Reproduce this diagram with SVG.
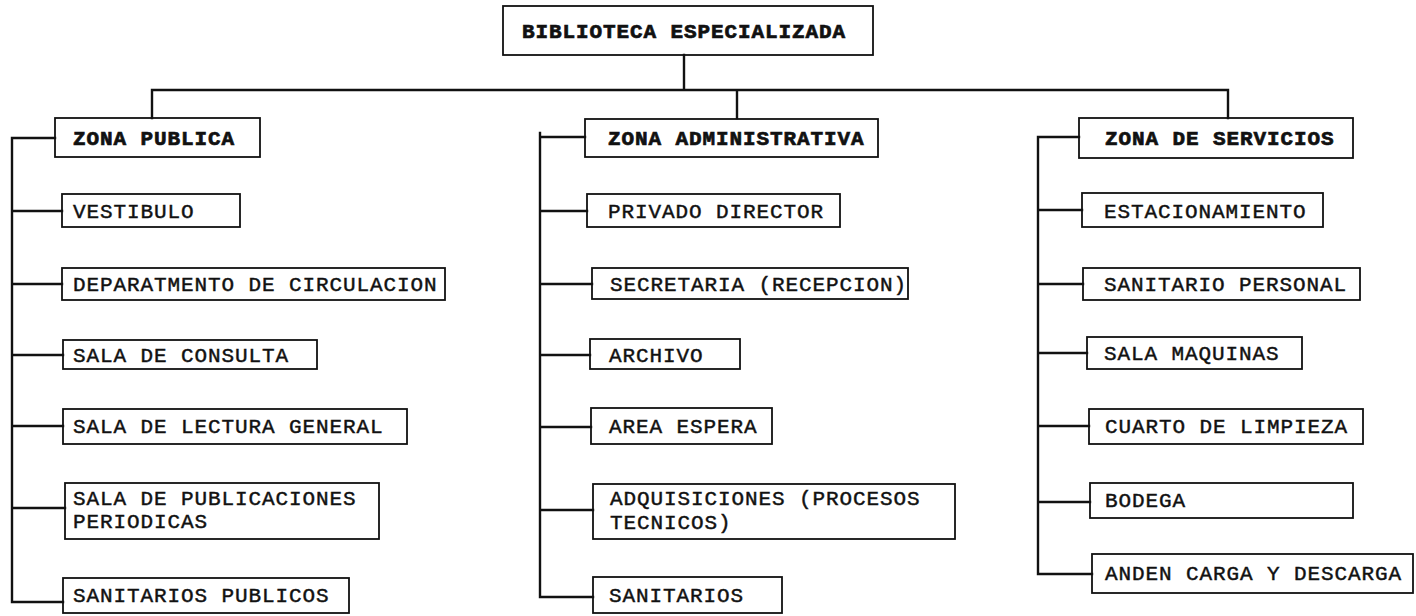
<svg xmlns="http://www.w3.org/2000/svg" width="1416" height="616" viewBox="0 0 1416 616">
<style>
.bg{fill:#ffffff}
.box{fill:none;stroke:#111;stroke-width:1.8}
.ln{fill:none;stroke:#111;stroke-width:2.4;stroke-linecap:square}
.t{font-family:"Liberation Mono","DejaVu Sans Mono",monospace;font-size:21px;letter-spacing:0.9px;fill:#111;stroke:#111;stroke-width:0.45}
.h{font-weight:bold;stroke-width:0.7}
</style>
<rect class="bg" x="0" y="0" width="1416" height="616"/>
<g id="connectors">
<path class="ln" d="M684 55V90M152 90H1228M152 90V118M737 90V118M1228 90V118"/>
<path class="ln" d="M12 138V602M12 138H55M12 211H62M12 284H62M12 355H63M12 426H63M12 508H65M12 602H63"/>
<path class="ln" d="M540 133V597M540 137H585M540 211H587M540 284H592M540 355H590M540 427H591M540 510H593M540 597H593"/>
<path class="ln" d="M1038 137V574M1038 137H1079M1038 210H1082M1038 284H1083M1038 353H1087M1038 426H1089M1038 502H1090M1038 574H1092"/>
</g>
<g id="n-biblioteca"><rect class="box" x="503" y="6" width="370" height="49"/><text class="t h" x="522" y="38">BIBLIOTECA ESPECIALIZADA</text></g>
<g id="n-zona-publica"><rect class="box" x="55" y="118" width="205" height="39"/><text class="t h" x="73" y="145">ZONA PUBLICA</text></g>
<g id="n-vestibulo"><rect class="box" x="62" y="194" width="178" height="33"/><text class="t" x="73" y="218">VESTIBULO</text></g>
<g id="n-circulacion"><rect class="box" x="62" y="268" width="383" height="32"/><text class="t" x="73" y="291">DEPARATMENTO DE CIRCULACION</text></g>
<g id="n-consulta"><rect class="box" x="63" y="340" width="254" height="29"/><text class="t" x="73" y="362">SALA DE CONSULTA</text></g>
<g id="n-lectura"><rect class="box" x="63" y="409" width="344" height="35"/><text class="t" x="73" y="433">SALA DE LECTURA GENERAL</text></g>
<g id="n-publicaciones"><rect class="box" x="65" y="483" width="314" height="56"/><text class="t" x="73" y="505">SALA DE PUBLICACIONES</text><text class="t" x="73" y="528">PERIODICAS</text></g>
<g id="n-sanitarios-publicos"><rect class="box" x="63" y="578" width="286" height="35"/><text class="t" x="73" y="602">SANITARIOS PUBLICOS</text></g>
<g id="n-zona-admin"><rect class="box" x="585" y="119" width="293" height="38"/><text class="t h" x="608" y="145">ZONA ADMINISTRATIVA</text></g>
<g id="n-privado"><rect class="box" x="587" y="194" width="253" height="33"/><text class="t" x="608" y="218">PRIVADO DIRECTOR</text></g>
<g id="n-secretaria"><rect class="box" x="592" y="268" width="316" height="31"/><text class="t" x="610" y="291">SECRETARIA (RECEPCION)</text></g>
<g id="n-archivo"><rect class="box" x="590" y="339" width="150" height="30"/><text class="t" x="609" y="362">ARCHIVO</text></g>
<g id="n-espera"><rect class="box" x="591" y="408" width="181" height="36"/><text class="t" x="609" y="433">AREA ESPERA</text></g>
<g id="n-adquisiciones"><rect class="box" x="593" y="484" width="362" height="55"/><text class="t" x="610" y="505">ADQUISICIONES (PROCESOS</text><text class="t" x="610" y="529">TECNICOS)</text></g>
<g id="n-sanitarios"><rect class="box" x="593" y="577" width="189" height="36"/><text class="t" x="609" y="602">SANITARIOS</text></g>
<g id="n-zona-servicios"><rect class="box" x="1079" y="118" width="274" height="40"/><text class="t h" x="1105" y="145">ZONA DE SERVICIOS</text></g>
<g id="n-estacionamiento"><rect class="box" x="1082" y="193" width="241" height="34"/><text class="t" x="1104" y="218">ESTACIONAMIENTO</text></g>
<g id="n-sanitario-personal"><rect class="box" x="1083" y="268" width="277" height="32"/><text class="t" x="1104" y="291">SANITARIO PERSONAL</text></g>
<g id="n-maquinas"><rect class="box" x="1087" y="337" width="215" height="32"/><text class="t" x="1104" y="360">SALA MAQUINAS</text></g>
<g id="n-limpieza"><rect class="box" x="1089" y="409" width="274" height="35"/><text class="t" x="1105" y="433">CUARTO DE LIMPIEZA</text></g>
<g id="n-bodega"><rect class="box" x="1090" y="483" width="263" height="35"/><text class="t" x="1105" y="507">BODEGA</text></g>
<g id="n-anden"><rect class="box" x="1092" y="554" width="321" height="39"/><text class="t" x="1105" y="580">ANDEN CARGA Y DESCARGA</text></g>
</svg>
